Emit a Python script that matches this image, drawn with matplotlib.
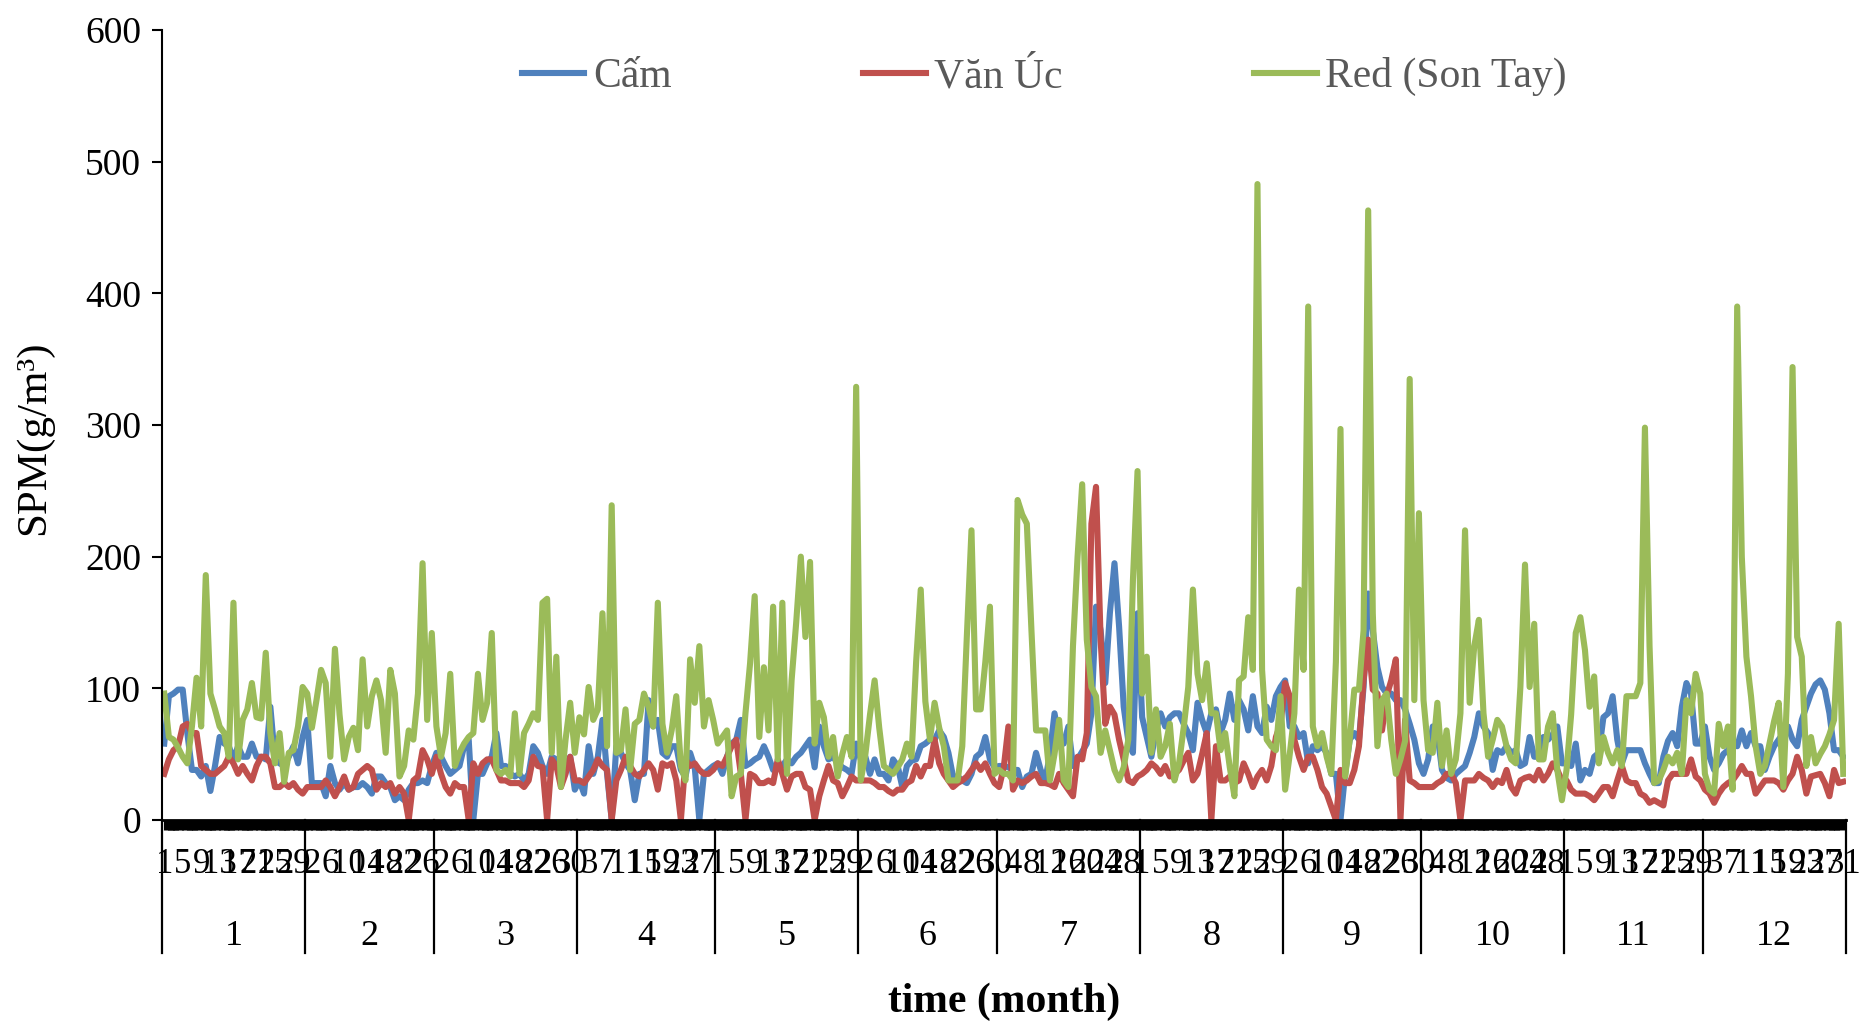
import numpy as np
import matplotlib
matplotlib.use("Agg")
import matplotlib.pyplot as plt

plt.rcParams["font.family"] = ["Liberation Serif", "DejaVu Serif"]

months = ["1", "2", "3", "4", "5", "6", "7", "8", "9", "10", "11", "12"]
month_days = [31, 28, 31, 30, 31, 30, 31, 31, 30, 31, 30, 31]

# daily SPM (g/m3), Jan 1 .. Dec 31
cam = [
    # Jan
    58, 94, 96, 99, 99, 66, 38, 38, 33, 41, 22, 41, 63, 58, 56, 46, 56, 48, 48, 58,
    48, 48, 46, 86, 46, 43, 41, 48, 56, 43, 63,
    # Feb
    76, 28, 28, 28, 18, 41, 28, 23, 28, 23, 25, 25, 28, 25, 20, 33, 33, 28, 25, 15,
    18, 15, 23, 28, 28, 30, 28, 41,
    # Mar
    51, 48, 41, 35, 38, 41, 56, 61, 0, 35, 35, 43, 48, 66, 41, 41, 35, 33, 35, 30,
    35, 56, 51, 41, 35, 48, 46, 46, 41, 48, 23,
    # Apr
    30, 20, 56, 35, 48, 76, 35, 0, 56, 51, 43, 38, 15, 35, 35, 91, 71, 76, 51, 48,
    56, 56, 38, 33, 51, 40, 0, 35, 38, 41,
    # May
    43, 35, 48, 58, 61, 76, 41, 43, 46, 48, 56, 48, 38, 41, 41, 46, 43, 48, 51, 56,
    61, 40, 71, 56, 46, 48, 43, 40, 38, 35, 58,
    # Jun
    46, 48, 35, 46, 35, 35, 30, 46, 41, 25, 41, 45, 46, 56, 58, 61, 61, 68, 63, 51,
    33, 33, 30, 28, 35, 48, 51, 63, 46, 40,
    # Jul
    41, 41, 40, 38, 38, 25, 33, 35, 51, 38, 30, 50, 81, 61, 58, 71, 41, 46, 52, 58,
    81, 162, 144, 104, 157, 195, 147, 86, 60, 51, 157,
    # Aug
    78, 63, 48, 68, 81, 71, 78, 81, 81, 73, 66, 53, 89, 76, 66, 81, 84, 66, 76, 96,
    76, 91, 84, 68, 94, 71, 66, 86, 76, 94, 101,
    # Sep
    106, 71, 71, 63, 66, 43, 56, 53, 56, 51, 35, 35, 0, 35, 61, 66, 61, 101, 172, 144,
    116, 101, 96, 96, 91, 91, 84, 73, 61, 43,
    # Oct
    35, 46, 71, 66, 38, 32, 30, 35, 38, 41, 51, 63, 81, 71, 66, 38, 53, 51, 56, 51,
    53, 41, 43, 63, 48, 48, 63, 61, 65, 71, 43,
    # Nov
    43, 41, 58, 30, 38, 35, 48, 51, 78, 81, 94, 61, 43, 53, 53, 53, 53, 43, 35, 28,
    28, 48, 60, 66, 56, 86, 104, 96, 58, 58,
    # Dec
    71, 48, 38, 43, 50, 53, 58, 56, 68, 56, 66, 56, 56, 38, 48, 56, 61, 66, 71, 61,
    56, 76, 86, 96, 103, 106, 99, 81, 53, 53, 48,
]

van_uc = [
    # Jan
    35, 46, 53, 56, 71, 73, 66, 66, 41, 38, 35, 35, 38, 41, 48, 43, 35, 41, 35, 30,
    41, 48, 48, 43, 25, 25, 28, 25, 28, 23, 20,
    # Feb
    25, 25, 25, 25, 30, 25, 18, 25, 33, 23, 25, 35, 38, 41, 38, 23, 28, 25, 28, 20,
    25, 20, 0, 30, 33, 53, 46, 35,
    # Mar
    48, 35, 25, 20, 28, 25, 25, 0, 43, 35, 43, 46, 46, 38, 30, 30, 28, 28, 28, 25,
    30, 48, 41, 40, 0, 46, 41, 25, 35, 48, 30,
    # Apr
    30, 28, 33, 38, 46, 41, 38, 0, 30, 38, 48, 41, 35, 33, 38, 43, 38, 23, 43, 41,
    43, 30, 0, 46, 41, 43, 38, 35, 35, 38,
    # May
    43, 41, 48, 56, 61, 35, 0, 35, 33, 28, 28, 30, 28, 46, 35, 23, 33, 35, 35, 25,
    23, 0, 18, 30, 41, 30, 28, 18, 25, 33, 30,
    # Jun
    30, 30, 30, 28, 25, 25, 22, 20, 23, 23, 28, 30, 41, 33, 41, 41, 61, 43, 35, 30,
    25, 28, 30, 33, 38, 43, 38, 43, 35, 28,
    # Jul
    25, 40, 71, 23, 30, 28, 30, 33, 35, 28, 28, 27, 25, 35, 28, 23, 18, 48, 46, 66,
    225, 253, 137, 73, 86, 80, 61, 46, 30, 28, 33,
    # Aug
    35, 38, 43, 40, 35, 41, 33, 35, 38, 45, 51, 30, 35, 50, 66, 0, 56, 30, 30, 33,
    28, 30, 43, 35, 25, 33, 38, 30, 41, 63, 73,
    # Sep
    104, 94, 61, 48, 38, 48, 48, 38, 25, 20, 10, 0, 38, 28, 28, 38, 56, 106, 137, 99,
    96, 68, 94, 106, 122, 0, 76, 30, 28, 25,
    # Oct
    25, 25, 25, 28, 30, 35, 35, 28, 0, 30, 30, 30, 35, 32, 30, 25, 30, 28, 38, 25,
    20, 30, 32, 33, 30, 38, 30, 35, 43, 38, 30,
    # Nov
    30, 23, 20, 20, 20, 18, 15, 20, 25, 25, 18, 30, 41, 30, 28, 28, 20, 18, 13, 15,
    13, 11, 30, 35, 35, 35, 35, 46, 33, 30,
    # Dec
    23, 20, 13, 20, 25, 28, 30, 35, 41, 35, 35, 20, 25, 30, 30, 30, 28, 23, 30, 35,
    48, 38, 20, 33, 34, 35, 28, 18, 38, 28, 29,
]

son_tay = [
    # Jan
    96, 63, 61, 55, 48, 43, 71, 108, 71, 186, 96, 84, 71, 66, 48, 165, 46, 76, 84, 104,
    78, 77, 127, 66, 43, 66, 29, 51, 53, 71, 101,
    # Feb
    96, 70, 91, 114, 104, 48, 130, 80, 46, 63, 70, 53, 122, 71, 94, 106, 91, 51, 114, 96,
    33, 41, 68, 61, 96, 195, 76, 142,
    # Mar
    71, 48, 66, 111, 41, 51, 58, 63, 66, 111, 76, 89, 142, 38, 35, 38, 33, 81, 35, 66,
    73, 81, 76, 165, 168, 51, 124, 25, 61, 89, 51,
    # Apr
    78, 65, 101, 76, 84, 157, 56, 239, 51, 53, 84, 38, 73, 76, 96, 86, 71, 165, 73, 51,
    68, 94, 41, 30, 122, 89, 132, 71, 91, 76,
    # May
    58, 63, 68, 18, 33, 35, 81, 119, 170, 63, 116, 68, 162, 46, 165, 35, 106, 150, 200, 139,
    196, 58, 89, 78, 48, 63, 33, 50, 63, 48, 329,
    # Jun
    30, 50, 80, 106, 70, 41, 38, 35, 40, 46, 58, 48, 120, 175, 90, 61, 89, 70, 56, 30,
    30, 30, 56, 140, 220, 84, 84, 120, 162, 35,
    # Jul
    38, 35, 35, 30, 243, 232, 225, 144, 68, 68, 68, 30, 50, 76, 30, 25, 132, 200, 255, 137,
    101, 94, 51, 68, 53, 38, 30, 40, 61, 182, 265,
    # Aug
    96, 124, 51, 84, 48, 56, 73, 30, 43, 70, 101, 175, 111, 91, 119, 81, 81, 53, 66, 40,
    18, 106, 109, 154, 114, 483, 114, 61, 56, 53, 94,
    # Sep
    23, 50, 81, 175, 114, 390, 71, 56, 66, 48, 35, 120, 297, 33, 61, 99, 99, 144, 463, 157,
    56, 91, 96, 61, 35, 46, 60, 335, 91, 233,
    # Oct
    91, 53, 51, 89, 41, 68, 35, 46, 81, 220, 89, 132, 152, 81, 48, 61, 76, 71, 56, 46,
    43, 101, 194, 101, 149, 46, 46, 71, 81, 38, 15,
    # Nov
    38, 80, 142, 154, 129, 86, 109, 43, 63, 51, 43, 53, 41, 94, 94, 94, 104, 298, 132, 28,
    30, 38, 48, 43, 51, 35, 91, 81, 111, 96,
    # Dec
    35, 23, 20, 73, 56, 71, 23, 390, 200, 124, 94, 56, 35, 41, 58, 75, 89, 25, 111, 344,
    139, 124, 41, 63, 43, 50, 56, 65, 76, 149, 35,
]

# day-of-month labels for every 4th day
day_of_month = [d + 1 for n in month_days for d in range(n)]
x = np.arange(len(day_of_month))

fig = plt.figure(figsize=(18.68, 10.22), dpi=100)
ax = fig.add_axes([0.0867, 0.1977, 0.9013, 0.7729])

ax.plot(x, cam, color="#4F81BD", lw=4.4, label="Cấm", solid_joinstyle="round")
ax.plot(x, van_uc, color="#C0504D", lw=4.4, label="Văn Úc", solid_joinstyle="round")
ax.plot(x, son_tay, color="#9BBB59", lw=4.4, label="Red (Son Tay)", solid_joinstyle="round")

ax.set_xlim(-0.5, len(x) - 0.5)
ax.set_ylim(0, 600)
ax.set_yticks(range(0, 601, 100))
ax.tick_params(axis="y", labelsize=27, length=7, width=1.5, direction="out", pad=8)

ax.set_xticks(x[::4])
ax.set_xticklabels([str(day_of_month[i]) for i in x[::4]], fontsize=25)
ax.set_xticks(x, minor=True)
ax.tick_params(axis="x", which="major", length=0, pad=20)
# one tick per day -> solid black band under the axis
ax.tick_params(axis="x", which="minor", length=7, width=8, direction="out")

for s in ["top", "right"]:
    ax.spines[s].set_visible(False)
ax.spines["left"].set_linewidth(1.5)
ax.spines["bottom"].set_linewidth(2)

# month separators and month labels
bounds = np.cumsum([0] + month_days) - 0.5
trans = ax.get_xaxis_transform()
for b in bounds:
    ax.plot([b, b], [0, -0.168], transform=trans, color="black", lw=1.6, clip_on=False)
for i, m in enumerate(months):
    ax.text((bounds[i] + bounds[i + 1]) / 2, -0.148, m, transform=trans,
            ha="center", va="center", fontsize=26)

ax.text(0.5, -0.23, "time (month)", transform=ax.transAxes, ha="center", va="center",
        fontsize=30, fontweight="bold")
fig.text(0.018, 0.572, "SPM(g/m³)", rotation=90, ha="center", va="center", fontsize=31)

ax.legend(loc="center", bbox_to_anchor=(0.559, 0.925), bbox_transform=fig.transFigure,
          ncol=3, frameon=False, fontsize=30, handlelength=1.5, handletextpad=0.2,
          columnspacing=4.6, labelcolor="#595959")

fig.savefig("out.png", dpi=100)
